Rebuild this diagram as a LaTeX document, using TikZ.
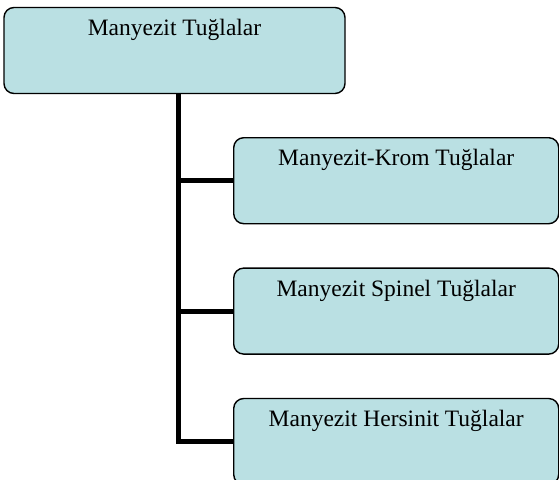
\documentclass[tikz,border=0pt]{standalone}
\usepackage{fontspec}
\setmainfont{Liberation Serif}
\usepackage{tikz}
\usetikzlibrary{positioning,calc}
\definecolor{boxfill}{RGB}{186,224,227}

\begin{document}
\begin{tikzpicture}[
    box/.style={draw=black, line width=1.4pt, fill=boxfill, rounded corners=10pt,
        inner xsep=0pt, inner ysep=0pt, text height=28pt, text depth=58pt,
        font=\fontsize{23.5}{27}\selectfont},
    topbox/.style={box, minimum width=341pt},
    childbox/.style={box, minimum width=325pt},
    branch/.style={line width=5pt, line join=miter},
    node distance=43pt
]
\useasboundingbox (0pt,0pt) rectangle (559pt,-479pt);

% Top box
\node[topbox] (brick) at (174.5pt,-50.5pt) {Manyezit Tuğlalar};

% Child boxes
\node[childbox, anchor=north west] (chrome) at (233pt,-137pt) {Manyezit-Krom Tuğlalar};
\node[childbox, below=of chrome] (spinel) {Manyezit Spinel Tuğlalar};
\node[childbox, below=of spinel] (hercynite) {Manyezit Hersinit Tuğlalar};

% Connectors
\coordinate (trunk) at ([xshift=3.5pt]brick.south);
\draw[branch] (trunk) |- (hercynite.west);
\foreach \c in {chrome,spinel} {
    \draw[branch] (trunk |- \c.west) -- (\c.west);
}

\end{tikzpicture}
\end{document}
